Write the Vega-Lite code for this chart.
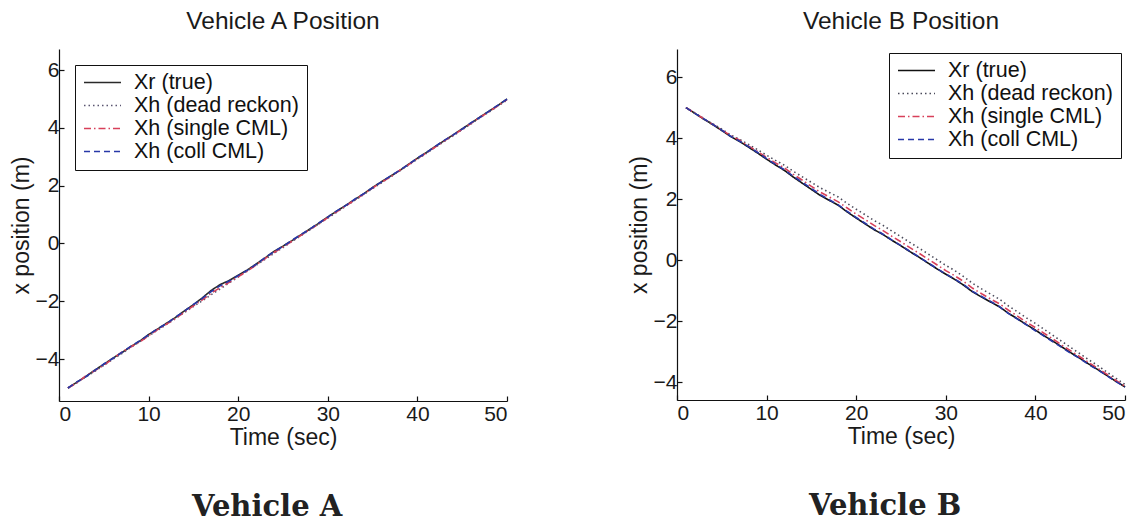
{
  "$schema": "https://vega.github.io/schema/vega-lite/v6.json",
  "background": "white",
  "padding": {"left": 10, "top": 8, "right": 18, "bottom": 0},
  "spacing": 117,
  "config": {
    "font": "Liberation Sans",
    "view": {"stroke": null},
    "axis": {
      "grid": false,
      "domainColor": "#111",
      "domainWidth": 1.2,
      "tickColor": "#111",
      "tickWidth": 1.2,
      "tickSize": -5,
      "labelColor": "#1a1a1a",
      "titleColor": "#1a1a1a",
      "labelFont": "Liberation Sans",
      "titleFont": "Liberation Sans",
      "labelFontSize": 21,
      "titleFontSize": 23,
      "titleFontWeight": "normal",
      "labelPadding": 5
    },
    "axisX": {"labelPadding": 7, "titlePadding": 2},
    "axisY": {"titlePadding": 2},
    "legend": {
      "title": null,
      "symbolType": "stroke",
      "symbolSize": 1369,
      "symbolStrokeWidth": 1.6,
      "labelFont": "Liberation Sans",
      "labelFontSize": 21.5,
      "labelColor": "#111",
      "labelOffset": 12,
      "labelLimit": 400,
      "strokeColor": "#111",
      "fillColor": "white",
      "padding": 8,
      "rowPadding": 1,
      "clipHeight": 19
    }
  },
  "datasets": {
    "vehicleA": [
      {"t": 1, "Xr (true)": -5.00, "Xh (dead reckon)": -5.00, "Xh (single CML)": -5.00, "Xh (coll CML)": -5.00},
      {"t": 2, "Xr (true)": -4.80, "Xh (dead reckon)": -4.81, "Xh (single CML)": -4.82, "Xh (coll CML)": -4.79},
      {"t": 3, "Xr (true)": -4.60, "Xh (dead reckon)": -4.62, "Xh (single CML)": -4.58, "Xh (coll CML)": -4.61},
      {"t": 4, "Xr (true)": -4.38, "Xh (dead reckon)": -4.42, "Xh (single CML)": -4.40, "Xh (coll CML)": -4.39},
      {"t": 5, "Xr (true)": -4.18, "Xh (dead reckon)": -4.22, "Xh (single CML)": -4.21, "Xh (coll CML)": -4.17},
      {"t": 6, "Xr (true)": -3.97, "Xh (dead reckon)": -4.01, "Xh (single CML)": -3.99, "Xh (coll CML)": -3.98},
      {"t": 7, "Xr (true)": -3.78, "Xh (dead reckon)": -3.81, "Xh (single CML)": -3.76, "Xh (coll CML)": -3.77},
      {"t": 8, "Xr (true)": -3.57, "Xh (dead reckon)": -3.60, "Xh (single CML)": -3.58, "Xh (coll CML)": -3.56},
      {"t": 9, "Xr (true)": -3.38, "Xh (dead reckon)": -3.40, "Xh (single CML)": -3.41, "Xh (coll CML)": -3.37},
      {"t": 10, "Xr (true)": -3.15, "Xh (dead reckon)": -3.20, "Xh (single CML)": -3.19, "Xh (coll CML)": -3.16},
      {"t": 11, "Xr (true)": -2.96, "Xh (dead reckon)": -3.00, "Xh (single CML)": -2.98, "Xh (coll CML)": -2.95},
      {"t": 12, "Xr (true)": -2.76, "Xh (dead reckon)": -2.80, "Xh (single CML)": -2.79, "Xh (coll CML)": -2.77},
      {"t": 13, "Xr (true)": -2.56, "Xh (dead reckon)": -2.59, "Xh (single CML)": -2.60, "Xh (coll CML)": -2.55},
      {"t": 14, "Xr (true)": -2.33, "Xh (dead reckon)": -2.39, "Xh (single CML)": -2.37, "Xh (coll CML)": -2.34},
      {"t": 15, "Xr (true)": -2.12, "Xh (dead reckon)": -2.18, "Xh (single CML)": -2.16, "Xh (coll CML)": -2.11},
      {"t": 16, "Xr (true)": -1.88, "Xh (dead reckon)": -1.98, "Xh (single CML)": -1.95, "Xh (coll CML)": -1.90},
      {"t": 17, "Xr (true)": -1.62, "Xh (dead reckon)": -1.77, "Xh (single CML)": -1.72, "Xh (coll CML)": -1.66},
      {"t": 18, "Xr (true)": -1.42, "Xh (dead reckon)": -1.57, "Xh (single CML)": -1.52, "Xh (coll CML)": -1.46},
      {"t": 19, "Xr (true)": -1.28, "Xh (dead reckon)": -1.36, "Xh (single CML)": -1.34, "Xh (coll CML)": -1.30},
      {"t": 20, "Xr (true)": -1.10, "Xh (dead reckon)": -1.16, "Xh (single CML)": -1.15, "Xh (coll CML)": -1.11},
      {"t": 21, "Xr (true)": -0.92, "Xh (dead reckon)": -0.95, "Xh (single CML)": -0.96, "Xh (coll CML)": -0.93},
      {"t": 22, "Xr (true)": -0.71, "Xh (dead reckon)": -0.75, "Xh (single CML)": -0.74, "Xh (coll CML)": -0.72},
      {"t": 23, "Xr (true)": -0.50, "Xh (dead reckon)": -0.55, "Xh (single CML)": -0.52, "Xh (coll CML)": -0.49},
      {"t": 24, "Xr (true)": -0.27, "Xh (dead reckon)": -0.34, "Xh (single CML)": -0.31, "Xh (coll CML)": -0.28},
      {"t": 25, "Xr (true)": -0.09, "Xh (dead reckon)": -0.14, "Xh (single CML)": -0.12, "Xh (coll CML)": -0.10},
      {"t": 26, "Xr (true)": 0.10, "Xh (dead reckon)": 0.07, "Xh (single CML)": 0.08, "Xh (coll CML)": 0.11},
      {"t": 27, "Xr (true)": 0.30, "Xh (dead reckon)": 0.27, "Xh (single CML)": 0.28, "Xh (coll CML)": 0.31},
      {"t": 28, "Xr (true)": 0.50, "Xh (dead reckon)": 0.47, "Xh (single CML)": 0.49, "Xh (coll CML)": 0.50},
      {"t": 29, "Xr (true)": 0.70, "Xh (dead reckon)": 0.68, "Xh (single CML)": 0.67, "Xh (coll CML)": 0.71},
      {"t": 30, "Xr (true)": 0.92, "Xh (dead reckon)": 0.88, "Xh (single CML)": 0.90, "Xh (coll CML)": 0.91},
      {"t": 31, "Xr (true)": 1.12, "Xh (dead reckon)": 1.08, "Xh (single CML)": 1.10, "Xh (coll CML)": 1.13},
      {"t": 32, "Xr (true)": 1.32, "Xh (dead reckon)": 1.29, "Xh (single CML)": 1.30, "Xh (coll CML)": 1.31},
      {"t": 33, "Xr (true)": 1.52, "Xh (dead reckon)": 1.49, "Xh (single CML)": 1.50, "Xh (coll CML)": 1.53},
      {"t": 34, "Xr (true)": 1.72, "Xh (dead reckon)": 1.69, "Xh (single CML)": 1.71, "Xh (coll CML)": 1.72},
      {"t": 35, "Xr (true)": 1.94, "Xh (dead reckon)": 1.90, "Xh (single CML)": 1.92, "Xh (coll CML)": 1.93},
      {"t": 36, "Xr (true)": 2.14, "Xh (dead reckon)": 2.10, "Xh (single CML)": 2.12, "Xh (coll CML)": 2.13},
      {"t": 37, "Xr (true)": 2.33, "Xh (dead reckon)": 2.31, "Xh (single CML)": 2.30, "Xh (coll CML)": 2.34},
      {"t": 38, "Xr (true)": 2.52, "Xh (dead reckon)": 2.51, "Xh (single CML)": 2.53, "Xh (coll CML)": 2.53},
      {"t": 39, "Xr (true)": 2.74, "Xh (dead reckon)": 2.71, "Xh (single CML)": 2.72, "Xh (coll CML)": 2.73},
      {"t": 40, "Xr (true)": 2.95, "Xh (dead reckon)": 2.92, "Xh (single CML)": 2.94, "Xh (coll CML)": 2.96},
      {"t": 41, "Xr (true)": 3.15, "Xh (dead reckon)": 3.12, "Xh (single CML)": 3.13, "Xh (coll CML)": 3.14},
      {"t": 42, "Xr (true)": 3.36, "Xh (dead reckon)": 3.33, "Xh (single CML)": 3.34, "Xh (coll CML)": 3.36},
      {"t": 43, "Xr (true)": 3.56, "Xh (dead reckon)": 3.53, "Xh (single CML)": 3.55, "Xh (coll CML)": 3.57},
      {"t": 44, "Xr (true)": 3.76, "Xh (dead reckon)": 3.73, "Xh (single CML)": 3.75, "Xh (coll CML)": 3.76},
      {"t": 45, "Xr (true)": 3.97, "Xh (dead reckon)": 3.94, "Xh (single CML)": 3.95, "Xh (coll CML)": 3.96},
      {"t": 46, "Xr (true)": 4.17, "Xh (dead reckon)": 4.14, "Xh (single CML)": 4.16, "Xh (coll CML)": 4.18},
      {"t": 47, "Xr (true)": 4.38, "Xh (dead reckon)": 4.35, "Xh (single CML)": 4.37, "Xh (coll CML)": 4.37},
      {"t": 48, "Xr (true)": 4.58, "Xh (dead reckon)": 4.55, "Xh (single CML)": 4.56, "Xh (coll CML)": 4.58},
      {"t": 49, "Xr (true)": 4.78, "Xh (dead reckon)": 4.76, "Xh (single CML)": 4.77, "Xh (coll CML)": 4.79},
      {"t": 50, "Xr (true)": 5.00, "Xh (dead reckon)": 4.96, "Xh (single CML)": 4.98, "Xh (coll CML)": 4.99}
    ],
    "vehicleB": [
      {"t": 1, "Xr (true)": 5.00, "Xh (dead reckon)": 5.00, "Xh (single CML)": 5.00, "Xh (coll CML)": 5.00},
      {"t": 2, "Xr (true)": 4.81, "Xh (dead reckon)": 4.82, "Xh (single CML)": 4.82, "Xh (coll CML)": 4.81},
      {"t": 3, "Xr (true)": 4.62, "Xh (dead reckon)": 4.64, "Xh (single CML)": 4.63, "Xh (coll CML)": 4.63},
      {"t": 4, "Xr (true)": 4.44, "Xh (dead reckon)": 4.47, "Xh (single CML)": 4.45, "Xh (coll CML)": 4.45},
      {"t": 5, "Xr (true)": 4.25, "Xh (dead reckon)": 4.29, "Xh (single CML)": 4.27, "Xh (coll CML)": 4.26},
      {"t": 6, "Xr (true)": 4.05, "Xh (dead reckon)": 4.10, "Xh (single CML)": 4.08, "Xh (coll CML)": 4.06},
      {"t": 7, "Xr (true)": 3.89, "Xh (dead reckon)": 3.96, "Xh (single CML)": 3.93, "Xh (coll CML)": 3.90},
      {"t": 8, "Xr (true)": 3.70, "Xh (dead reckon)": 3.79, "Xh (single CML)": 3.74, "Xh (coll CML)": 3.72},
      {"t": 9, "Xr (true)": 3.51, "Xh (dead reckon)": 3.62, "Xh (single CML)": 3.56, "Xh (coll CML)": 3.53},
      {"t": 10, "Xr (true)": 3.31, "Xh (dead reckon)": 3.44, "Xh (single CML)": 3.37, "Xh (coll CML)": 3.33},
      {"t": 11, "Xr (true)": 3.12, "Xh (dead reckon)": 3.27, "Xh (single CML)": 3.19, "Xh (coll CML)": 3.14},
      {"t": 12, "Xr (true)": 2.94, "Xh (dead reckon)": 3.11, "Xh (single CML)": 3.02, "Xh (coll CML)": 2.96},
      {"t": 13, "Xr (true)": 2.72, "Xh (dead reckon)": 2.91, "Xh (single CML)": 2.81, "Xh (coll CML)": 2.75},
      {"t": 14, "Xr (true)": 2.52, "Xh (dead reckon)": 2.73, "Xh (single CML)": 2.62, "Xh (coll CML)": 2.55},
      {"t": 15, "Xr (true)": 2.32, "Xh (dead reckon)": 2.55, "Xh (single CML)": 2.42, "Xh (coll CML)": 2.35},
      {"t": 16, "Xr (true)": 2.12, "Xh (dead reckon)": 2.37, "Xh (single CML)": 2.23, "Xh (coll CML)": 2.15},
      {"t": 17, "Xr (true)": 1.96, "Xh (dead reckon)": 2.22, "Xh (single CML)": 2.07, "Xh (coll CML)": 1.98},
      {"t": 18, "Xr (true)": 1.80, "Xh (dead reckon)": 2.07, "Xh (single CML)": 1.91, "Xh (coll CML)": 1.81},
      {"t": 19, "Xr (true)": 1.58, "Xh (dead reckon)": 1.86, "Xh (single CML)": 1.71, "Xh (coll CML)": 1.60},
      {"t": 20, "Xr (true)": 1.38, "Xh (dead reckon)": 1.67, "Xh (single CML)": 1.51, "Xh (coll CML)": 1.40},
      {"t": 21, "Xr (true)": 1.19, "Xh (dead reckon)": 1.49, "Xh (single CML)": 1.33, "Xh (coll CML)": 1.21},
      {"t": 22, "Xr (true)": 1.00, "Xh (dead reckon)": 1.30, "Xh (single CML)": 1.14, "Xh (coll CML)": 1.02},
      {"t": 23, "Xr (true)": 0.84, "Xh (dead reckon)": 1.14, "Xh (single CML)": 0.97, "Xh (coll CML)": 0.85},
      {"t": 24, "Xr (true)": 0.65, "Xh (dead reckon)": 0.95, "Xh (single CML)": 0.78, "Xh (coll CML)": 0.66},
      {"t": 25, "Xr (true)": 0.47, "Xh (dead reckon)": 0.77, "Xh (single CML)": 0.60, "Xh (coll CML)": 0.48},
      {"t": 26, "Xr (true)": 0.28, "Xh (dead reckon)": 0.58, "Xh (single CML)": 0.41, "Xh (coll CML)": 0.29},
      {"t": 27, "Xr (true)": 0.10, "Xh (dead reckon)": 0.40, "Xh (single CML)": 0.23, "Xh (coll CML)": 0.11},
      {"t": 28, "Xr (true)": -0.09, "Xh (dead reckon)": 0.21, "Xh (single CML)": 0.04, "Xh (coll CML)": -0.08},
      {"t": 29, "Xr (true)": -0.28, "Xh (dead reckon)": 0.02, "Xh (single CML)": -0.15, "Xh (coll CML)": -0.27},
      {"t": 30, "Xr (true)": -0.46, "Xh (dead reckon)": -0.17, "Xh (single CML)": -0.34, "Xh (coll CML)": -0.45},
      {"t": 31, "Xr (true)": -0.63, "Xh (dead reckon)": -0.34, "Xh (single CML)": -0.51, "Xh (coll CML)": -0.62},
      {"t": 32, "Xr (true)": -0.82, "Xh (dead reckon)": -0.54, "Xh (single CML)": -0.70, "Xh (coll CML)": -0.80},
      {"t": 33, "Xr (true)": -1.04, "Xh (dead reckon)": -0.76, "Xh (single CML)": -0.92, "Xh (coll CML)": -1.02},
      {"t": 34, "Xr (true)": -1.21, "Xh (dead reckon)": -0.94, "Xh (single CML)": -1.10, "Xh (coll CML)": -1.19},
      {"t": 35, "Xr (true)": -1.37, "Xh (dead reckon)": -1.11, "Xh (single CML)": -1.27, "Xh (coll CML)": -1.35},
      {"t": 36, "Xr (true)": -1.53, "Xh (dead reckon)": -1.28, "Xh (single CML)": -1.43, "Xh (coll CML)": -1.52},
      {"t": 37, "Xr (true)": -1.74, "Xh (dead reckon)": -1.50, "Xh (single CML)": -1.64, "Xh (coll CML)": -1.75},
      {"t": 38, "Xr (true)": -1.92, "Xh (dead reckon)": -1.69, "Xh (single CML)": -1.83, "Xh (coll CML)": -1.93},
      {"t": 39, "Xr (true)": -2.11, "Xh (dead reckon)": -1.89, "Xh (single CML)": -2.03, "Xh (coll CML)": -2.12},
      {"t": 40, "Xr (true)": -2.29, "Xh (dead reckon)": -2.07, "Xh (single CML)": -2.21, "Xh (coll CML)": -2.31},
      {"t": 41, "Xr (true)": -2.48, "Xh (dead reckon)": -2.27, "Xh (single CML)": -2.40, "Xh (coll CML)": -2.49},
      {"t": 42, "Xr (true)": -2.66, "Xh (dead reckon)": -2.47, "Xh (single CML)": -2.59, "Xh (coll CML)": -2.68},
      {"t": 43, "Xr (true)": -2.85, "Xh (dead reckon)": -2.67, "Xh (single CML)": -2.79, "Xh (coll CML)": -2.87},
      {"t": 44, "Xr (true)": -3.04, "Xh (dead reckon)": -2.87, "Xh (single CML)": -2.98, "Xh (coll CML)": -3.06},
      {"t": 45, "Xr (true)": -3.22, "Xh (dead reckon)": -3.07, "Xh (single CML)": -3.17, "Xh (coll CML)": -3.23},
      {"t": 46, "Xr (true)": -3.41, "Xh (dead reckon)": -3.27, "Xh (single CML)": -3.36, "Xh (coll CML)": -3.43},
      {"t": 47, "Xr (true)": -3.59, "Xh (dead reckon)": -3.46, "Xh (single CML)": -3.55, "Xh (coll CML)": -3.60},
      {"t": 48, "Xr (true)": -3.78, "Xh (dead reckon)": -3.67, "Xh (single CML)": -3.74, "Xh (coll CML)": -3.79},
      {"t": 49, "Xr (true)": -3.97, "Xh (dead reckon)": -3.87, "Xh (single CML)": -3.94, "Xh (coll CML)": -3.98},
      {"t": 50, "Xr (true)": -4.15, "Xh (dead reckon)": -4.07, "Xh (single CML)": -4.13, "Xh (coll CML)": -4.16}
    ]
  },
  "hconcat": [
    {
      "title": {"text": "Vehicle A", "orient": "bottom", "anchor": "middle", "font": "DejaVu Serif", "fontWeight": "bold", "fontSize": 29, "color": "#222", "offset": 44, "dx": 7},
      "resolve": {"legend": {"color": "independent", "strokeDash": "independent"}},
      "vconcat": [
        {
          "title": {"text": "Vehicle A Position", "anchor": "middle", "font": "Liberation Sans", "fontSize": 24.5, "fontWeight": "normal", "color": "#1a1a1a", "offset": 15},
          "width": 448,
          "height": 352,
          "data": {"name": "vehicleA"},
          "transform": [
            {"fold": ["Xr (true)", "Xh (dead reckon)", "Xh (single CML)", "Xh (coll CML)"], "as": ["series", "x"]}
          ],
          "mark": {"type": "line", "strokeWidth": 1.6},
          "encoding": {
            "x": {"field": "t", "type": "quantitative", "scale": {"domain": [0, 50], "nice": false}, "axis": {"values": [0, 10, 20, 30, 40, 50], "title": "Time (sec)"}},
            "y": {"field": "x", "type": "quantitative", "scale": {"domain": [-5.45, 6.73], "nice": false, "zero": false}, "axis": {"values": [-4, -2, 0, 2, 4, 6], "title": "x position (m)"}},
            "color": {"field": "series", "type": "nominal",
              "scale": {"domain": ["Xr (true)", "Xh (dead reckon)", "Xh (single CML)", "Xh (coll CML)"], "range": ["#2a2a2a", "#5a5570", "#d8405a", "#2838a8"]},
              "legend": {"orient": "top-left", "offset": 16}},
            "strokeDash": {"field": "series", "type": "nominal",
              "scale": {"domain": ["Xr (true)", "Xh (dead reckon)", "Xh (single CML)", "Xh (coll CML)"], "range": [[1, 0], [1.5, 3], [7, 3, 1.5, 3], [6, 4]]},
              "legend": {"orient": "top-left", "offset": 16}}
          }
        }
      ]
    },
    {
      "title": {"text": "Vehicle B", "orient": "bottom", "anchor": "middle", "font": "DejaVu Serif", "fontWeight": "bold", "fontSize": 29, "color": "#222", "offset": 44, "dx": 7},
      "resolve": {"legend": {"color": "independent", "strokeDash": "independent"}},
      "vconcat": [
        {
          "title": {"text": "Vehicle B Position", "anchor": "middle", "font": "Liberation Sans", "fontSize": 24.5, "fontWeight": "normal", "color": "#1a1a1a", "offset": 15},
          "width": 448,
          "height": 351,
          "data": {"name": "vehicleB"},
          "transform": [
            {"fold": ["Xr (true)", "Xh (dead reckon)", "Xh (single CML)", "Xh (coll CML)"], "as": ["series", "x"]}
          ],
          "mark": {"type": "line", "strokeWidth": 1.6},
          "encoding": {
            "x": {"field": "t", "type": "quantitative", "scale": {"domain": [0, 50], "nice": false}, "axis": {"values": [0, 10, 20, 30, 40, 50], "title": "Time (sec)"}},
            "y": {"field": "x", "type": "quantitative", "scale": {"domain": [-4.58, 6.92], "nice": false, "zero": false}, "axis": {"values": [-4, -2, 0, 2, 4, 6], "title": "x position (m)"}},
            "color": {"field": "series", "type": "nominal",
              "scale": {"domain": ["Xr (true)", "Xh (dead reckon)", "Xh (single CML)", "Xh (coll CML)"], "range": ["#111111", "#4a4a5a", "#d8405a", "#2838a8"]},
              "legend": {"orient": "top-right", "offset": 4}},
            "strokeDash": {"field": "series", "type": "nominal",
              "scale": {"domain": ["Xr (true)", "Xh (dead reckon)", "Xh (single CML)", "Xh (coll CML)"], "range": [[1, 0], [1.5, 3], [7, 3, 1.5, 3], [6, 4]]},
              "legend": {"orient": "top-right", "offset": 4}}
          }
        }
      ]
    }
  ],
  "resolve": {
    "scale": {"y": "independent", "color": "independent", "strokeDash": "independent"},
    "legend": {"color": "independent", "strokeDash": "independent"}
  }
}
